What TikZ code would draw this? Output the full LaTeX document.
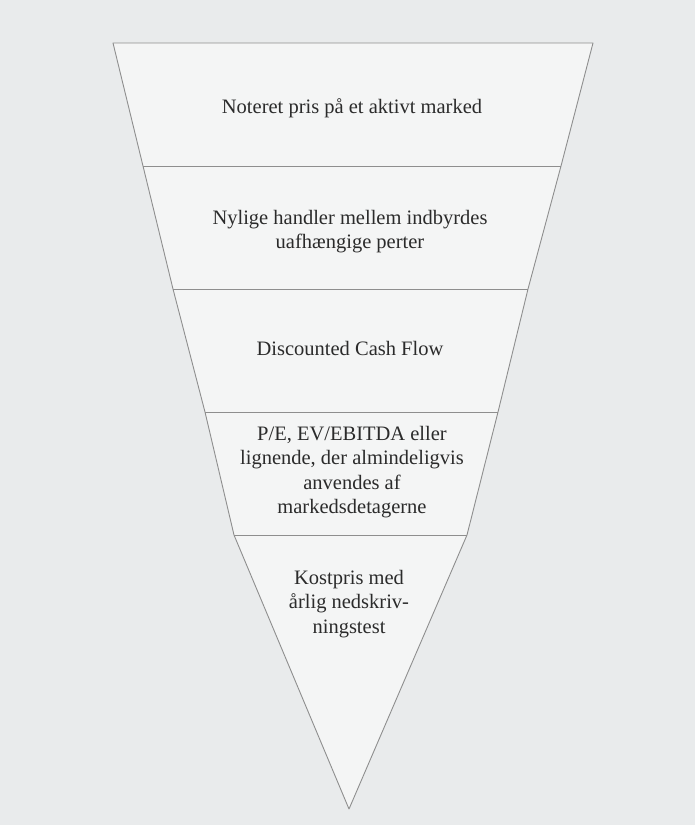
\documentclass[tikz,border=0pt]{standalone}
\usepackage{fontspec}
\setmainfont{Liberation Serif}
\definecolor{bgcol}{HTML}{E9EBEC}
\definecolor{fillcol}{HTML}{F4F5F5}
\definecolor{edgecol}{HTML}{8E8E8E}
\definecolor{txtcol}{HTML}{2B2B2B}
\begin{document}
\begin{tikzpicture}[x=1pt,y=-1pt,
  edge/.style={draw=edgecol,line width=0.9pt,line join=round},
  label/.style={align=center,inner sep=0pt,text=txtcol,font=\fontsize{20.5}{24.3}\selectfont}]
\fill[bgcol] (0,0) rectangle (695,825);
\useasboundingbox (0,0) rectangle (695,825);
% corner coordinates
\coordinate (L0) at (113,43);
\coordinate (L1) at (143,166);
\coordinate (L2) at (173,289);
\coordinate (L3) at (205,412);
\coordinate (L4) at (234,535);
\coordinate (R0) at (593,43);
\coordinate (R1) at (561,166);
\coordinate (R2) at (528,289);
\coordinate (R3) at (498,412);
\coordinate (R4) at (467,535);
\coordinate (apex) at (349,809);
% funnel body
\fill[fillcol] (L0) -- (L1) -- (L2) -- (L3) -- (L4) -- (apex) -- (R4) -- (R3) -- (R2) -- (R1) -- (R0) -- cycle;
\draw[edge] (L0) -- (L1) -- (L2) -- (L3) -- (L4) -- (apex) -- (R4) -- (R3) -- (R2) -- (R1) -- (R0) -- cycle;
\draw[edge] (L1) -- (R1);
\draw[edge] (L2) -- (R2);
\draw[edge] (L3) -- (R3);
\draw[edge] (L4) -- (R4);
% labels
\node[label] (t1) at (352,108) {Noteret pris på et aktivt marked};
\node[label] (t2) at (350,231.5) {Nylige handler mellem indbyrdes\\uafhængige perter};
\node[label] (t3) at (350,348) {Discounted Cash Flow};
\node[label] (t4) at (352,472) {P/E, EV/EBITDA eller\\lignende, der almindeligvis\\anvendes af\\markedsdetagerne};
\node[label] (t5) at (349,604) {Kostpris med\\årlig nedskriv-\\ningstest};
\end{tikzpicture}
\end{document}
